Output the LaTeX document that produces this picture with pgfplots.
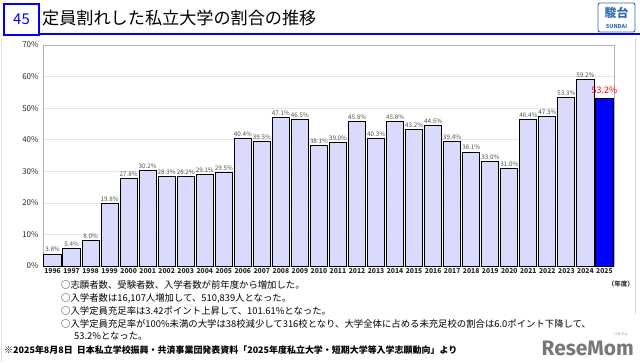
\documentclass[border=0pt]{standalone}
\usepackage{pgfplots}
\pgfplotsset{compat=1.18}
\usepackage{fontspec}
\setmainfont{Noto Sans CJK JP}
\newfontfamily\resefont{Fira Sans}
\definecolor{barfill}{RGB}{218,218,252}
\definecolor{lblgray}{RGB}{80,80,80}
\definecolor{logoblue}{RGB}{50,110,175}
\definecolor{resegray}{RGB}{120,120,120}
\pgfplotstableread{
year val
1996 3.8
1997 5.4
1998 8.0
1999 19.8
2000 27.8
2001 30.2
2002 28.3
2003 28.2
2004 29.1
2005 29.5
2006 40.4
2007 39.5
2008 47.1
2009 46.5
2010 38.1
2011 39.0
2012 45.8
2013 40.3
2014 45.8
2015 43.2
2016 44.5
2017 39.4
2018 36.1
2019 33.0
2020 31.0
2021 46.4
2022 47.3
2023 53.3
2024 59.2
}\mainbars
\pgfplotstableread{
year val
2025 53.2
}\lastbar
\begin{document}
\begin{tikzpicture}
\begin{scope}[x=1bp,y=1bp]
\path[use as bounding box] (0,0) rectangle (640,362);
\fill[white] (0,0) rectangle (640,362);
% frame lines
\draw[gray!35, line width=0.6bp] (635,324) -- (635,48);
\draw[gray!25, line width=0.6bp] (1.5,324) -- (1.5,0);
% header
\fill[blue] (38,327) rectangle (640,329.5);
\draw[blue, line width=2bp, fill=white] (4,327) rectangle (39,358);
\node[text=blue, font=\fontsize{15}{15}\selectfont] at (21.5,342.5) {45};
\node[anchor=west, inner sep=0pt, font=\fontsize{17.2}{17.2}\selectfont] at (42,344) {定員割れした私立大学の割合の推移};
% logo
\draw[logoblue, line width=0.9bp, rounded corners=2bp, fill=white] (598,330) rectangle (635,359);
\node[text=logoblue, font=\fontsize{12}{12}\selectfont\bfseries, inner sep=0pt] at (616.5,349) {駿台};
\node[text=logoblue, font=\fontsize{5.5}{5.5}\selectfont\bfseries, inner sep=0pt] at (616.5,336) {SUNDAI};
% bottom text
\node[anchor=east, font=\fontsize{6.5}{6.5}\selectfont\bfseries, text=black!80, inner sep=0pt] at (634,78) {（年度）};
\begin{scope}[every node/.style={anchor=west, inner sep=0pt, font=\fontsize{9.4}{9.4}\selectfont}]
\node at (61,77) {○志願者数、受験者数、入学者数が前年度から増加した。};
\node at (61,64) {○入学者数は16,107人増加して、510,839人となった。};
\node at (61,51) {○入学定員充足率は3.42ポイント上昇して、101.61\%となった。};
\node at (61,38) {○入学定員充足率が100\%未満の大学は38校減少して316校となり、大学全体に占める未充足校の割合は6.0ポイント下降して、};
\node at (74,26) {53.2\%となった。};
\node[font=\fontsize{9}{9}\selectfont\bfseries] at (4,12) {※2025年8月8日\ \ 日本私立学校振興・共済事業団発表資料「2025年度私立大学・短期大学等入学志願動向」より};
\end{scope}
\node[anchor=east, inner sep=0pt, text=resegray, font=\resefont\fontsize{21}{21}\selectfont\bfseries] at (634,14) {ReseMom};
\node[anchor=east, inner sep=0pt, text=resegray, font=\fontsize{3.5}{3.5}\selectfont] at (628,28) {リセマム};
\end{scope}
\begin{axis}[
  at={(43bp,96bp)}, anchor=south west,
  scale only axis, width=571bp, height=221bp,
  xmin=1995.5, xmax=2025.5, ymin=0, ymax=70,
  ytick={0,10,...,70},
  yticklabel={\pgfmathprintnumber{\tick}\%},
  xtick={1996,...,2025},
  xticklabel style={/pgf/number format/1000 sep=, font=\fontsize{6.8}{6.8}\selectfont\bfseries, text=black!85, inner sep=1bp, yshift=-1.5bp},
  yticklabel style={font=\fontsize{8}{8}\selectfont, text=black!85, xshift=-1bp},
  /pgf/number format/assume math mode=true,
  major tick length=0pt,
  ymajorgrids, grid style={gray!20, line width=0.6bp},
  axis line style={gray!60, line width=0.9bp},
  ybar, bar width=0.9, bar shift=0pt,
  clip=false,
  every node near coord/.append style={font=\fontsize{6.3}{6.3}\selectfont, text=lblgray, inner sep=1.5bp},
]
\addplot[draw=black, line width=1bp, fill=barfill, nodes near coords={\pgfmathprintnumber[fixed, fixed zerofill, precision=1]{\pgfplotspointmeta}\%}] table[x=year, y=val] {\mainbars};
\addplot[draw=black, line width=1bp, fill=blue, nodes near coords={\pgfmathprintnumber[fixed, fixed zerofill, precision=1]{\pgfplotspointmeta}\%}, every node near coord/.append style={font=\fontsize{9}{9}\selectfont, text=red, yshift=2bp}] table[x=year, y=val] {\lastbar};
\end{axis}
\end{tikzpicture}
\end{document}
